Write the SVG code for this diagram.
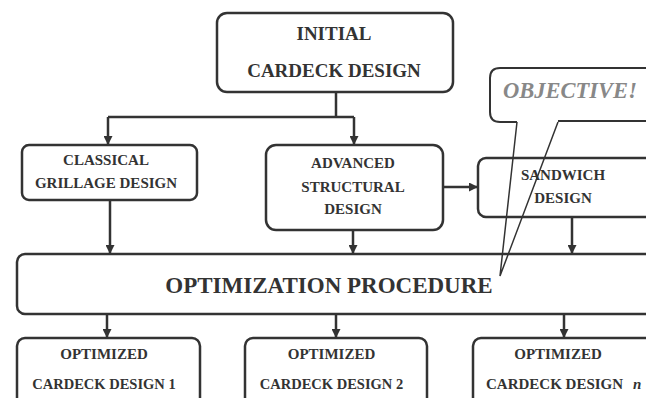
<svg xmlns="http://www.w3.org/2000/svg" width="646" height="398" viewBox="0 0 646 398">
<defs>
<marker id="ah" viewBox="0 0 10 10" refX="10" refY="5" markerWidth="3.6" markerHeight="3.6" orient="auto" markerUnits="strokeWidth">
<path d="M0,0 L10,5 L0,10 Z" fill="#333"/>
</marker>
<style>
.box{fill:#fff;stroke:#333;stroke-width:2.5}
.t{font-family:"Liberation Serif","Times New Roman",serif;font-weight:bold;fill:#333;text-anchor:middle}
.c{fill:none;stroke:#333;stroke-width:2.5}
.a{fill:none;stroke:#333;stroke-width:2.5;marker-end:url(#ah)}
</style>
</defs>
<rect width="646" height="398" fill="#fff"/>
<g id="connectors">
<path class="c" d="M336,92 V117"/>
<path class="c" d="M108,117 H354"/>
<path class="a" d="M108,117 V145"/>
<path class="a" d="M354,117 V145"/>
<path class="a" d="M110,200 V254"/>
<path class="a" d="M353,230 V254"/>
<path class="a" d="M572,217 V254"/>
<path class="a" d="M443,187 H478"/>
<path class="a" d="M107,314 V338"/>
<path class="a" d="M336,314 V338"/>
<path class="a" d="M564,314 V338"/>
</g>
<g id="initial">
<rect class="box" x="217" y="13" width="236" height="79" rx="10"/>
<text class="t" x="334" y="40" font-size="19">INITIAL</text>
<text class="t" x="334" y="77" font-size="19">CARDECK DESIGN</text>
</g>
<g id="classical">
<rect class="box" x="22" y="145" width="175" height="55" rx="7"/>
<text class="t" x="106" y="165" font-size="15">CLASSICAL</text>
<text class="t" x="106" y="188" font-size="15">GRILLAGE DESIGN</text>
</g>
<g id="advanced">
<rect class="box" x="266" y="145" width="177" height="85" rx="10"/>
<text class="t" x="353" y="168" font-size="15">ADVANCED</text>
<text class="t" x="353" y="192" font-size="15">STRUCTURAL</text>
<text class="t" x="353" y="214" font-size="15">DESIGN</text>
</g>
<g id="sandwich">
<rect class="box" x="478" y="158" width="190" height="59" rx="8"/>
<text class="t" x="563" y="180" font-size="15">SANDWICH</text>
<text class="t" x="563" y="203" font-size="15">DESIGN</text>
</g>
<g id="optimization">
<rect class="box" x="17" y="254" width="650" height="60" rx="8"/>
<text class="t" x="329" y="293" font-size="23">OPTIMIZATION PROCEDURE</text>
</g>
<g id="optimized1">
<rect class="box" x="17" y="338" width="183" height="80" rx="8"/>
<text class="t" x="104" y="359" font-size="15">OPTIMIZED</text>
<text class="t" x="104" y="389" font-size="14.5">CARDECK DESIGN 1</text>
</g>
<g id="optimized2">
<rect class="box" x="245" y="338" width="182" height="80" rx="8"/>
<text class="t" x="331.5" y="359" font-size="15">OPTIMIZED</text>
<text class="t" x="331.5" y="389" font-size="14.5">CARDECK DESIGN 2</text>
</g>
<g id="optimizedn">
<rect class="box" x="473" y="338" width="190" height="80" rx="8"/>
<text class="t" x="558" y="359" font-size="15">OPTIMIZED</text>
<text class="t" x="486" y="389" font-size="15" style="text-anchor:start">CARDECK DESIGN <tspan x="633" font-style="italic">n</tspan></text>
</g>
<g id="objective">
<path d="M517,122 H500 Q490,122 490,112 V78 Q490,68 500,68 H660 V121 H558" fill="#fff" stroke="#333" stroke-width="2"/>
<path d="M517,122 L500,276 L558,122" fill="none" stroke="#333" stroke-width="1.5"/>
<text class="t" x="570" y="98" font-size="22.5" font-style="italic" style="fill:#888">OBJECTIVE!</text>
</g>
</svg>
